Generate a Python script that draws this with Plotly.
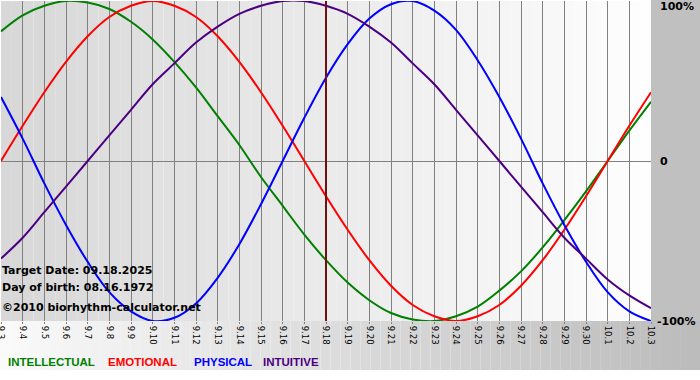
import plotly.graph_objects as go

tick_labels = ["9.3", "9.4", "9.5", "9.6", "9.7", "9.8", "9.9", "9.10", "9.11", "9.12",
               "9.13", "9.14", "9.15", "9.16", "9.17", "9.18", "9.19", "9.20", "9.21", "9.22",
               "9.23", "9.24", "9.25", "9.26", "9.27", "9.28", "9.29", "9.30", "10.1", "10.2", "10.3"]

intellectual = [0.81, 0.91, 0.97, 1.00, 0.99, 0.95, 0.87, 0.76, 0.62, 0.46, 0.28, 0.10, -0.10,
                -0.28, -0.46, -0.62, -0.76, -0.87, -0.95, -0.99, -1.00, -0.97, -0.91, -0.81,
                -0.69, -0.54, -0.37, -0.19, 0.00, 0.19, 0.37]
emotional = [0.00, 0.22, 0.43, 0.62, 0.78, 0.90, 0.97, 1.00, 0.97, 0.90, 0.78, 0.62, 0.43, 0.22,
             0.00, -0.22, -0.43, -0.62, -0.78, -0.90, -0.97, -1.00, -0.97, -0.90, -0.78, -0.62,
             -0.43, -0.22, 0.00, 0.22, 0.43]
physical = [0.40, 0.14, -0.14, -0.40, -0.63, -0.82, -0.94, -1.00, -0.98, -0.89, -0.73, -0.52,
            -0.27, 0.00, 0.27, 0.52, 0.73, 0.89, 0.98, 1.00, 0.94, 0.82, 0.63, 0.40, 0.14, -0.14,
            -0.40, -0.63, -0.82, -0.94, -1.00]
intuitive = [-0.61, -0.48, -0.32, -0.16, 0.00, 0.16, 0.32, 0.48, 0.61, 0.74, 0.84, 0.92, 0.97,
             1.00, 1.00, 0.97, 0.92, 0.84, 0.74, 0.61, 0.48, 0.32, 0.16, 0.00, -0.16, -0.32,
             -0.48, -0.61, -0.74, -0.84, -0.92]

target_label = "9.18"
series = [("INTELLECTUAL", intellectual, "#008000"),
          ("EMOTIONAL", emotional, "#ff0000"),
          ("PHYSICAL", physical, "#0000ff"),
          ("INTUITIVE", intuitive, "#4b0082")]

x = list(range(len(tick_labels)))
n = len(tick_labels) - 1

fig = go.Figure()
for name, vals, col in series:
    fig.add_trace(go.Scatter(x=x, y=vals, mode="lines", name=name,
                             line=dict(color=col, width=2, shape="spline", smoothing=1.0),
                             hoverinfo="skip"))

shapes = []
# plot area gradient (light gray -> white)
steps = 60
for i in range(steps):
    t = i / (steps - 1)
    c = int(216 + (254 - 216) * t)
    shapes.append(dict(type="rect", xref="x", yref="y", x0=n * i / steps, x1=n * (i + 1) / steps,
                       y0=-1, y1=1, fillcolor=f"rgb({c},{c},{c})", line_width=0, layer="below"))
# right gray area
W, H = 650.0, 320.0
shapes.append(dict(type="rect", xref="paper", yref="paper", x0=1, x1=1 + 49 / W, y0=0, y1=1 + 2 / H,
                   fillcolor="#c0c0c0", line_width=0, layer="below"))
# bottom gradient band
bsteps = 70
for i in range(bsteps):
    t = i / (bsteps - 1)
    c = int(250 - (250 - 188) * t)
    shapes.append(dict(type="rect", xref="paper", yref="paper",
                       x0=-1 / W + (701 / W) * i / bsteps, x1=-1 / W + (701 / W) * (i + 1) / bsteps,
                       y0=-49 / H, y1=0, fillcolor=f"rgb({c},{c},{c})", line_width=0, layer="below"))
# target day marker
ti = tick_labels.index(target_label)
shapes.append(dict(type="line", xref="x", yref="paper", x0=ti, x1=ti, y0=0, y1=1,
                   line=dict(color="#701010", width=2), layer="above"))

font_b = "DejaVu Sans"
annotations = []
for txt, yv in [("100%", 1), ("0", 0), ("-100%", -1)]:
    annotations.append(dict(text=f"<b>{txt}</b>", xref="paper", yref="y", x=1, y=yv,
                            xanchor="left", yanchor="middle", xshift=4 if txt == "-100%" else 7,
                            yshift=-5 if txt == "100%" else 0,
                            showarrow=False, font=dict(family=font_b, size=11, color="#000000")))
for txt, py in [("Target Date: 09.18.2025", 270), ("Day of birth: 08.16.1972", 287),
                ("©2010 biorhythm-calculator.net", 307)]:
    annotations.append(dict(text=f"<b>{txt}</b>", xref="paper", yref="paper", x=0, y=1 - (py - 1) / H,
                            xanchor="left", yanchor="middle", xshift=-1, showarrow=False,
                            font=dict(family=font_b, size=11, color="#000000")))
leg_x = [6, 106, 192, 261]
for (name, vals, col), lx in zip(series, leg_x):
    annotations.append(dict(text=f"<b>{name}</b>", xref="paper", yref="paper", x=(lx - 1) / W,
                            y=1 - (362 - 1) / H, xanchor="left", yanchor="middle", showarrow=False,
                            font=dict(family="Liberation Sans", size=11.5, color=col)))

fig.update_layout(
    width=700, height=380,
    margin=dict(l=1, r=49, t=1, b=59, autoexpand=False),
    paper_bgcolor="#ffffff", plot_bgcolor="rgba(0,0,0,0)",
    showlegend=False,
    shapes=shapes, annotations=annotations,
    xaxis=dict(range=[0, n], tickvals=x, ticktext=tick_labels, tickangle=90,
               showgrid=True, gridcolor="#808080", gridwidth=1, zeroline=False,
               tickfont=dict(family="DejaVu Sans", size=8.5, color="#000000"),
               ticks="outside", ticklen=2, tickcolor="#808080", showline=False, fixedrange=True,
               automargin=False, ticklabeloverflow="allow"),
    yaxis=dict(range=[-1, 1], showticklabels=False, showgrid=False, zeroline=True,
               zerolinecolor="#808080", zerolinewidth=1, fixedrange=True, automargin=False),
)

fig.write_html("out.html", config={"displayModeBar": False},
               post_script="document.body.style.margin='0';document.body.style.overflow='hidden';")
